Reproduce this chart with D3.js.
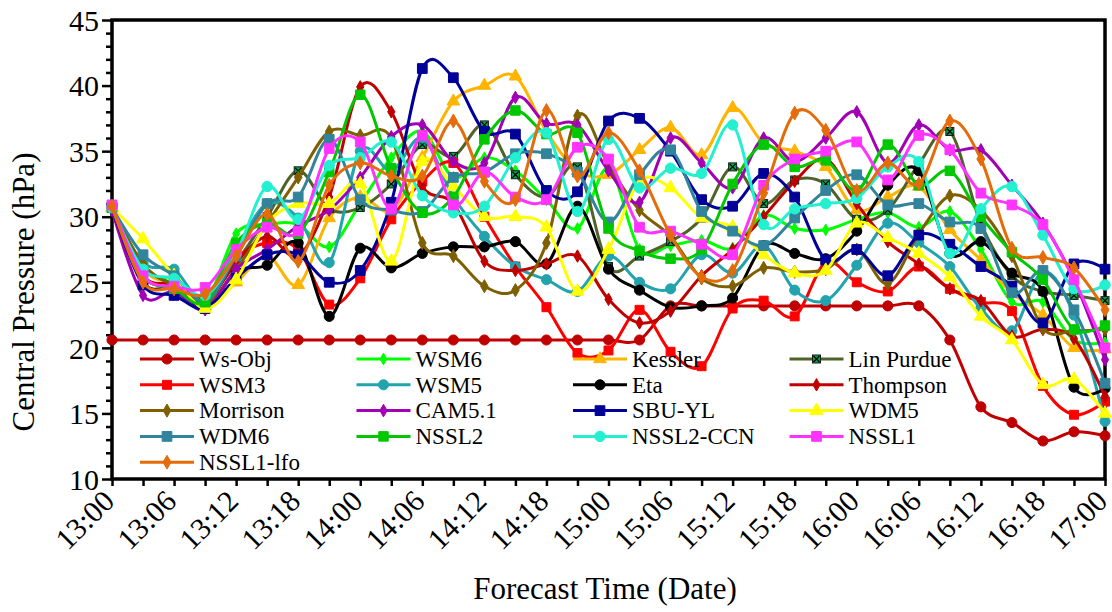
<!DOCTYPE html>
<html>
<head>
<meta charset="utf-8">
<script src="https://cdn.jsdelivr.net/npm/d3@7"></script>
<style>
  body { margin: 0; background: #fff; }
  svg { display: block; }
</style>
</head>
<body>
<svg id="chart" width="1112" height="612"></svg>
<script>
// tick labels every 6 h, points every 3 h (33 points)
const tickLabels = ["13:00", "13:06", "13:12", "13:18", "14:00", "14:06", "14:12", "14:18",
  "15:00", "15:06", "15:12", "15:18", "16:00", "16:06", "16:12", "16:18", "17:00"]

const wsObj     = [20.6, 20.6, 20.6, 20.6, 20.6, 20.6, 20.6, 20.6, 20.6, 20.6, 20.6, 20.6, 20.6, 20.6, 20.6, 20.6, 20.6, 20.6, 23.2, 23.2, 23.2, 23.2, 23.2, 23.2, 23.2, 23.2, 23.2, 20.6, 15.5, 14.3, 12.9, 13.6, 13.3]
const wsm6      = [30.7, 26.0, 25.0, 23.5, 28.7, 29.4, 29.4, 27.7, 31.0, 34.5, 36.5, 33.0, 34.5, 33.5, 31.3, 29.1, 33.7, 27.5, 27.8, 28.2, 27.6, 30.1, 29.1, 29.0, 29.8, 30.3, 29.2, 30.4, 27.5, 23.5, 23.5, 20.6, 20.4]
const kessler   = [30.7, 26.0, 24.8, 23.2, 25.0, 27.0, 24.8, 29.9, 31.5, 30.5, 34.5, 38.8, 40.0, 40.7, 36.5, 33.5, 33.2, 35.1, 36.8, 34.7, 38.3, 35.6, 35.0, 33.8, 30.5, 31.5, 32.3, 29.0, 26.7, 24.2, 22.5, 20.0, 19.9]
const linPurdue = [30.7, 26.3, 24.8, 23.8, 26.5, 30.0, 33.5, 30.6, 30.7, 32.5, 35.5, 34.6, 37.0, 33.2, 31.5, 33.8, 26.2, 27.0, 28.1, 29.9, 33.8, 31.0, 32.8, 32.5, 29.8, 30.5, 34.0, 36.5, 29.5, 25.5, 24.3, 24.0, 23.6]
const wsm3      = [30.7, 25.5, 24.5, 23.2, 26.8, 28.0, 27.5, 23.3, 25.3, 29.8, 32.7, 34.1, 30.0, 26.2, 23.1, 19.6, 19.8, 22.9, 19.7, 18.6, 23.0, 23.6, 22.4, 26.5, 25.0, 24.3, 26.2, 24.5, 23.5, 22.8, 17.1, 14.9, 15.9]
const wsm5      = [30.7, 26.5, 26.0, 23.5, 27.5, 31.0, 29.9, 26.5, 35.0, 33.5, 36.0, 31.5, 28.5, 26.2, 25.2, 24.3, 27.0, 25.0, 24.5, 27.1, 25.7, 27.8, 24.4, 23.6, 26.3, 29.5, 28.0, 26.2, 23.0, 21.3, 25.8, 22.5, 14.4]
const eta       = [30.7, 25.0, 24.5, 23.0, 25.8, 26.3, 28.0, 22.4, 27.6, 26.1, 27.2, 27.7, 27.7, 28.1, 26.4, 30.8, 26.0, 24.4, 23.1, 23.2, 23.8, 27.8, 27.2, 26.8, 28.9, 32.4, 33.5, 27.2, 28.1, 25.7, 24.3, 17.0, 16.9]
const thompson  = [30.7, 25.5, 24.8, 23.5, 26.5, 28.5, 27.0, 31.5, 39.9, 38.0, 32.3, 31.0, 26.6, 25.9, 26.4, 27.0, 23.7, 21.9, 22.8, 25.5, 27.5, 30.0, 32.7, 34.4, 31.0, 28.1, 26.4, 24.5, 23.6, 20.9, 21.4, 20.7, 16.3]
const morrison  = [30.7, 26.4, 24.7, 23.4, 26.0, 29.5, 33.0, 36.5, 36.2, 36.0, 28.0, 27.0, 24.7, 24.4, 28.0, 37.7, 33.9, 30.5, 28.5, 25.3, 24.7, 26.1, 25.8, 26.0, 27.5, 24.9, 28.7, 31.6, 30.5, 27.0, 21.5, 21.3, 21.4]
const cam51     = [30.5, 24.0, 24.3, 22.9, 26.0, 27.5, 29.3, 30.5, 33.0, 36.1, 37.0, 34.2, 34.1, 39.1, 37.1, 37.0, 33.5, 31.1, 36.0, 34.1, 32.2, 36.0, 34.2, 36.0, 38.0, 34.1, 37.0, 35.1, 35.1, 32.4, 29.5, 25.2, 19.1]
const sbuYl     = [30.7, 24.8, 24.0, 23.0, 25.3, 27.1, 27.1, 25.0, 25.9, 31.1, 41.3, 40.6, 36.5, 36.3, 32.0, 31.9, 37.3, 37.5, 35.0, 31.3, 30.8, 33.3, 31.5, 26.7, 27.5, 25.5, 28.6, 27.9, 26.2, 24.7, 21.9, 26.4, 26.0]
const wdm5      = [30.7, 28.3, 25.5, 23.0, 25.2, 29.5, 31.0, 31.0, 32.5, 26.6, 34.2, 32.3, 30.0, 30.0, 29.2, 24.3, 27.5, 32.7, 32.2, 29.9, 29.2, 27.1, 25.7, 25.9, 29.5, 28.4, 27.2, 25.4, 22.4, 20.6, 17.2, 17.6, 15.0]
const wdm6      = [30.7, 27.1, 25.5, 23.5, 27.0, 31.0, 31.5, 35.9, 31.3, 30.5, 30.4, 33.0, 33.4, 34.8, 34.8, 33.4, 29.6, 33.2, 35.1, 30.4, 28.9, 27.8, 29.9, 32.0, 33.2, 30.9, 31.0, 29.6, 29.1, 24.2, 25.9, 22.9, 17.3]
const nssl2     = [30.7, 25.5, 24.5, 23.5, 28.0, 29.5, 28.7, 33.4, 39.3, 33.7, 30.3, 31.5, 35.9, 38.1, 36.3, 36.4, 29.1, 27.4, 26.8, 27.5, 32.5, 35.5, 33.8, 34.3, 32.0, 35.5, 32.4, 33.5, 30.0, 27.3, 25.2, 21.4, 21.7]
const nssl2Ccn  = [30.7, 26.0, 25.3, 24.0, 27.2, 32.3, 29.8, 33.9, 34.5, 35.7, 31.6, 30.3, 30.8, 34.5, 36.4, 30.4, 35.9, 32.2, 33.7, 33.3, 37.0, 29.4, 30.6, 31.0, 31.4, 33.8, 34.2, 27.2, 30.6, 32.3, 28.6, 24.5, 24.8]
const nssl1     = [30.9, 25.5, 24.7, 24.6, 27.5, 29.2, 28.9, 35.2, 35.7, 30.6, 36.2, 30.9, 33.4, 31.5, 31.3, 35.3, 34.4, 29.2, 28.9, 27.9, 27.1, 32.4, 34.4, 35.0, 35.7, 32.8, 36.2, 35.1, 31.8, 30.9, 29.4, 25.2, 20.0]
const nssl1Lfo  = [30.8, 25.0, 24.5, 24.1, 27.0, 30.2, 26.6, 32.4, 34.1, 33.1, 33.1, 37.3, 32.7, 31.3, 38.1, 33.1, 36.4, 33.5, 28.6, 25.4, 25.9, 31.8, 37.9, 36.6, 32.0, 34.1, 32.5, 37.3, 34.4, 27.6, 26.9, 26.1, 22.9]

// series in legend order (row by row)
const seriesNames = ["Ws-Obj", "WSM6", "Kessler", "Lin Purdue", "WSM3", "WSM5", "Eta", "Thompson",
  "Morrison", "CAM5.1", "SBU-YL", "WDM5", "WDM6", "NSSL2", "NSSL2-CCN", "NSSL1", "NSSL1-lfo"]
const seriesValues = [wsObj, wsm6, kessler, linPurdue, wsm3, wsm5, eta, thompson,
  morrison, cam51, sbuYl, wdm5, wdm6, nssl2, nssl2Ccn, nssl1, nssl1Lfo]

// look of each series
const styles = {
  "Ws-Obj":     {color: "#C00000", marker: "circle", size: 80},
  "WSM6":       {color: "#00FF00", marker: "diamond", size: 40},
  "Kessler":    {color: "#FFB400", marker: "triangle", size: 70},
  "Lin Purdue": {color: "#4F6228", marker: "xbox", size: 0},
  "WSM3":       {color: "#FF0000", marker: "square", size: 80},
  "WSM5":       {color: "#22A3AD", marker: "circle", size: 80},
  "Eta":        {color: "#000000", marker: "circle", size: 80},
  "Thompson":   {color: "#C00000", marker: "diamond", size: 45},
  "Morrison":   {color: "#7F6000", marker: "diamond", size: 50},
  "CAM5.1":     {color: "#A100B5", marker: "diamond", size: 45},
  "SBU-YL":     {color: "#000099", marker: "square", size: 95},
  "WDM5":       {color: "#FFFF00", marker: "triangle", size: 75},
  "WDM6":       {color: "#31849B", marker: "square", size: 95},
  "NSSL2":      {color: "#00C800", marker: "square", size: 90},
  "NSSL2-CCN":  {color: "#22F0D0", marker: "circle", size: 85},
  "NSSL1":      {color: "#FF33FF", marker: "square", size: 95},
  "NSSL1-lfo":  {color: "#E46C0A", marker: "diamond", size: 55}
}

const FONT = "'Liberation Serif', 'Times New Roman', serif"

const svg = d3.select("#chart")
const margin = {top: 20, right: 7, bottom: 133, left: 112}
const width = 1112 - margin.left - margin.right
const height = 612 - margin.top - margin.bottom

const g = svg.append("g").attr("transform", `translate(${margin.left},${margin.top})`)

const x = d3.scaleLinear().domain([0, 32]).range([0, width])
const y = d3.scaleLinear().domain([10, 45]).range([height, 0])

// y axis: minor ticks every 1, labelled every 5
g.append("g")
    .call(d3.axisLeft(y).tickValues(d3.range(10, 46, 1).filter(v => v % 5 !== 0)).tickSize(6).tickFormat(""))
    .call(a => a.select(".domain").remove())
    .call(a => a.selectAll("line").attr("stroke-width", 2.5))
g.append("g")
    .attr("font-family", FONT)
    .call(d3.axisLeft(y).tickValues(d3.range(10, 46, 5)).tickSize(10).tickPadding(3))
    .attr("font-family", FONT)
    .attr("font-size", 30)
    .call(a => a.select(".domain").remove())
    .call(a => a.selectAll("line").attr("stroke-width", 2.5))
    .call(a => a.selectAll("text").attr("fill", "#000").attr("dy", "0.34em"))

// x axis: tick every point, label every other
g.append("g")
    .attr("transform", `translate(0,${height})`)
    .call(d3.axisBottom(x).tickValues(d3.range(0, 33)).tickSize(7).tickFormat(""))
    .call(a => a.select(".domain").remove())
    .call(a => a.selectAll("line").attr("stroke-width", 2.5))

g.append("g").selectAll("text")
  .data(tickLabels)
  .join("text")
    .attr("transform", (d, i) => `translate(${x(i * 2) + 4},${height + 24}) rotate(-45)`)
    .attr("text-anchor", "end")
    .attr("font-family", FONT)
    .attr("font-size", 30)
    .text(d => d)

// frame
g.append("rect")
    .attr("width", width)
    .attr("height", height)
    .attr("fill", "none")
    .attr("stroke", "#000")
    .attr("stroke-width", 3.5)

// titles
svg.append("text")
    .attr("transform", "translate(34,292) rotate(-90)")
    .attr("text-anchor", "middle")
    .attr("font-family", FONT)
    .attr("font-size", 31)
    .text("Central Pressure (hPa)")
svg.append("text")
    .attr("x", 605)
    .attr("y", 599)
    .attr("text-anchor", "middle")
    .attr("font-family", FONT)
    .attr("font-size", 31)
    .text("Forecast Time (Date)")

function drawMarker(sel, st) {
  if (st.marker === "xbox") {
    sel.append("rect").attr("x", -4).attr("y", -4).attr("width", 8).attr("height", 8)
      .attr("fill", "#00A651").attr("stroke", "#1a1a1a").attr("stroke-width", 1)
    sel.append("path").attr("d", "M-3,-3L3,3M-3,3L3,-3").attr("stroke", "#000").attr("stroke-width", 1.2)
    return
  }
  const type = {circle: d3.symbolCircle, square: d3.symbolSquare, diamond: d3.symbolDiamond, triangle: d3.symbolTriangle}[st.marker]
  sel.append("path")
    .attr("d", d3.symbol().type(type).size(st.size)())
    .attr("fill", st.color)
    .attr("stroke", st.color)
    .attr("stroke-width", 1)
}

const line = d3.line()
    .x((d, i) => x(i))
    .y(d => y(d))
    .curve(d3.curveCardinal.tension(0))

const plot = g.append("g")
seriesNames.forEach((name, k) => {
  const st = styles[name]
  const s = plot.append("g")
  s.append("path")
      .datum(seriesValues[k])
      .attr("d", line)
      .attr("fill", "none")
      .attr("stroke", st.color)
      .attr("stroke-width", 3)
  s.selectAll("g.m")
    .data(seriesValues[k])
    .join("g")
      .attr("class", "m")
      .attr("transform", (d, i) => `translate(${x(i)},${y(d)})`)
      .each(function() { drawMarker(d3.select(this), st) })
})

// legend: 4 columns, drawn over the lines
const legend = g.append("g")
seriesNames.forEach((name, k) => {
  const st = styles[name]
  const col = k % 4
  const row = Math.floor(k / 4)
  const item = legend.append("g")
      .attr("transform", `translate(${28 + col * 216.5},${339 + row * 25.8})`)
  item.append("line")
      .attr("x1", 0).attr("x2", 54)
      .attr("stroke", st.color)
      .attr("stroke-width", 3)
  item.append("g").attr("transform", "translate(27,0)").call(drawMarker, st)
  item.append("text")
      .attr("x", 59)
      .attr("dy", "0.34em")
      .attr("font-family", FONT)
      .attr("font-size", 23)
      .text(name)
})
</script>
</body>
</html>
